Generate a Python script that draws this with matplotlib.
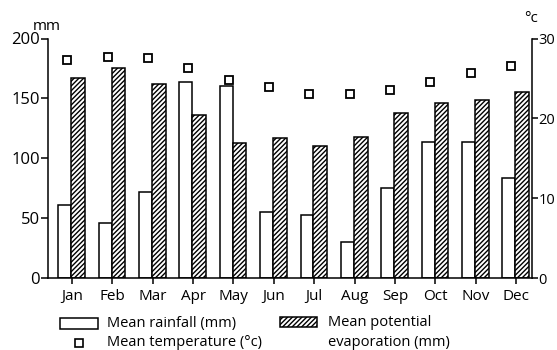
import numpy as np
import matplotlib as mpl
mpl.use("Agg")
import matplotlib.pyplot as plt
from matplotlib.patches import Rectangle
from matplotlib.lines import Line2D

plt.rcParams['font.family'] = ['Open Sans', 'DejaVu Sans']
plt.rcParams['hatch.linewidth'] = 1.0

months = ['Jan', 'Feb', 'Mar', 'Apr', 'May', 'Jun',
          'Jul', 'Aug', 'Sep', 'Oct', 'Nov', 'Dec']
rainfall = [61, 46, 72, 164, 160, 55, 53, 30, 75, 114, 114, 84]
evaporation = [167, 175, 162, 136, 113, 117, 110, 118, 138, 146, 149, 155]
temperature = [27.3, 27.7, 27.5, 26.3, 24.8, 23.9, 23.1, 23.1, 23.5, 24.5, 25.7, 26.5]

x = np.arange(len(months))
lw = 1.1

fig = plt.figure(figsize=(5.57, 3.5), dpi=100)
ax = fig.add_axes([0.0862, 0.205, 0.869, 0.685])
ax2 = ax.twinx()

# bars
ax.bar(x - 0.02, rainfall, width=-0.32, align='edge', facecolor='white',
       edgecolor='black', linewidth=lw)
ax.bar(x - 0.02, evaporation, width=0.34, align='edge', facecolor='white',
       edgecolor='black', linewidth=lw, hatch='///////')

# temperature on right axis
ax2.plot(x - 0.12, temperature, linestyle='none', marker='s', markersize=5.5,
         markerfacecolor='white', markeredgecolor='black', markeredgewidth=1.3)

ax.set_xlim(-0.595, 11.396)
ax.set_ylim(0, 200)
ax2.set_ylim(0, 30)

ax.set_xticks(x)
ax.set_xticklabels(months)
ax.set_yticks([0, 50, 100, 150, 200])
ax2.set_yticks([0, 10, 20, 30])

for s in ['top', 'right']:
    ax.spines[s].set_visible(False)
for s in ['top', 'left', 'bottom']:
    ax2.spines[s].set_visible(False)
for sp in [ax.spines['left'], ax.spines['bottom'], ax2.spines['right']]:
    sp.set_linewidth(lw)

ax.tick_params(axis='y', length=5, width=lw, pad=1, labelsize=12)
ax.tick_params(axis='x', length=4, width=lw, pad=4, labelsize=11)
ax2.tick_params(axis='y', length=4, width=lw, pad=0.5, labelsize=10.5)

# unit labels
fig.text(47 / 557, 1 - 26 / 350, 'mm', ha='center', va='center', fontsize=11)
fig.text(531 / 557, 1 - 18 / 350, '°c', ha='center', va='center', fontsize=11)

# legend, drawn by hand to copy the layout
def fx(px):
    return px / 557


def fy(py):
    return 1 - py / 350


fig.patches.append(Rectangle((fx(60), fy(329)), fx(38), 11 / 350,
                             transform=fig.transFigure, facecolor='white',
                             edgecolor='black', linewidth=lw))
fig.patches.append(Rectangle((fx(280), fy(327)), fx(37), 10 / 350,
                             transform=fig.transFigure, facecolor='white',
                             edgecolor='black', linewidth=lw, hatch='///////'))
fig.lines.append(Line2D([fx(79)], [fy(343)], transform=fig.transFigure,
                        linestyle='none', marker='s', markersize=5.2,
                        markerfacecolor='white', markeredgecolor='black',
                        markeredgewidth=1.2))
leg_kw = dict(ha='left', va='center', fontsize=10.5)
fig.text(fx(107), fy(323), 'Mean rainfall (mm)', **leg_kw)
fig.text(fx(107), fy(343), 'Mean temperature (°c)', **leg_kw)
fig.text(fx(328), fy(323), 'Mean potential', **leg_kw)
fig.text(fx(328), fy(343), 'evaporation (mm)', **leg_kw)

fig.savefig('out.png', dpi=100)
